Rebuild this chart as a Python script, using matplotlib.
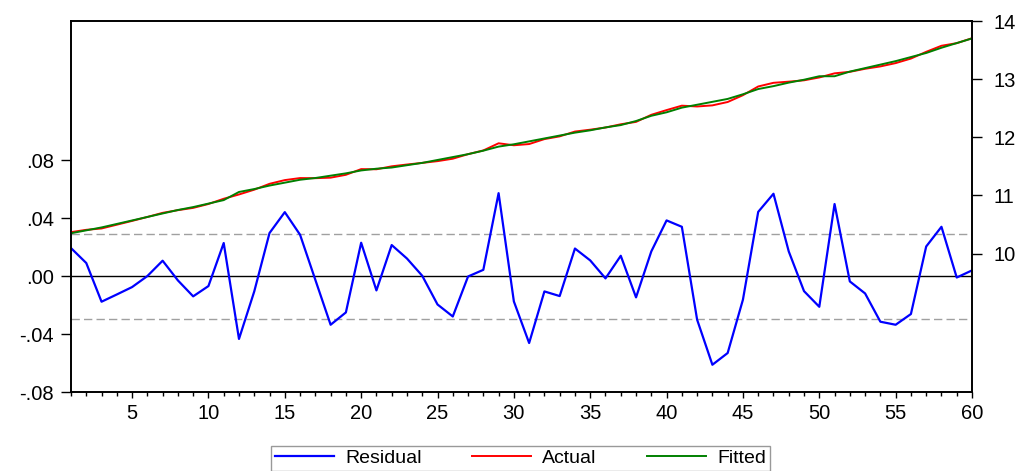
import numpy as np
import matplotlib
matplotlib.use("Agg")
import matplotlib.pyplot as plt
from matplotlib.ticker import MultipleLocator, FixedLocator

plt.rcParams['font.family'] = ['Liberation Sans', 'DejaVu Sans']

obs = list(range(1, 61))

residual = [0.0193, 0.0090, -0.0177, -0.0127, -0.0076, 0.0000, 0.0106, -0.0030, -0.0140, -0.0069,
            0.0228, -0.0434, -0.0106, 0.0297, 0.0441, 0.0285, -0.0026, -0.0336, -0.0251, 0.0230,
            -0.0099, 0.0214, 0.0121, 0.0002, -0.0196, -0.0279, -0.0003, 0.0043, 0.0572, -0.0175,
            -0.0462, -0.0106, -0.0138, 0.0190, 0.0108, -0.0016, 0.0140, -0.0147, 0.0170, 0.0384,
            0.0340, -0.0301, -0.0612, -0.0531, -0.0163, 0.0443, 0.0568, 0.0170, -0.0104, -0.0212,
            0.0497, -0.0037, -0.0120, -0.0315, -0.0336, -0.0262, 0.0204, 0.0340, -0.0010, 0.0039]

fitted = [10.35, 10.40, 10.45, 10.51, 10.57, 10.63, 10.69, 10.75, 10.80, 10.86,
          10.92, 11.06, 11.11, 11.17, 11.22, 11.27, 11.30, 11.34, 11.38, 11.43,
          11.46, 11.48, 11.52, 11.56, 11.61, 11.66, 11.71, 11.77, 11.84, 11.88,
          11.93, 11.98, 12.03, 12.08, 12.12, 12.17, 12.21, 12.28, 12.37, 12.43,
          12.51, 12.56, 12.61, 12.66, 12.74, 12.83, 12.88, 12.94, 12.99, 13.05,
          13.05, 13.13, 13.19, 13.25, 13.31, 13.38, 13.45, 13.54, 13.62, 13.70]

actual = [10.369, 10.409, 10.432, 10.497, 10.562, 10.630, 10.701, 10.747, 10.786, 10.853,
          10.943, 11.017, 11.099, 11.200, 11.264, 11.299, 11.297, 11.306, 11.355, 11.453,
          11.450, 11.501, 11.532, 11.560, 11.590, 11.632, 11.710, 11.774, 11.897, 11.863,
          11.884, 11.969, 12.016, 12.099, 12.131, 12.168, 12.224, 12.265, 12.387, 12.468,
          12.544, 12.530, 12.549, 12.607, 12.724, 12.874, 12.937, 12.957, 12.980, 13.029,
          13.100, 13.126, 13.178, 13.219, 13.276, 13.354, 13.470, 13.574, 13.619, 13.704]

std_err = 0.0293

left_ticks = [-0.08, -0.04, 0.0, 0.04, 0.08]
left_labels = ['-.08', '-.04', '.00', '.04', '.08']
right_ticks = [10, 11, 12, 13, 14]

fs = 14.5

fig = plt.figure(figsize=(10.21, 4.71), dpi=100)
ax = fig.add_axes([71 / 1021, 1 - 392 / 471, 901 / 1021, 371 / 471])
ax2 = ax.twinx()

# residual on the left axis
ax.axhline(0, color='black', lw=1.0, zorder=1)
ax.axhline(std_err, color='#a0a0a0', lw=1.0, ls=(0, (6, 3)), zorder=1)
ax.axhline(-std_err, color='#a0a0a0', lw=1.0, ls=(0, (6, 3)), zorder=1)
l_res, = ax.plot(obs, residual, color='#0000ff', lw=1.6, label='Residual')
ax.set_ylim(-0.08, 0.176)
ax.set_xlim(1, 60)
ax.yaxis.set_major_locator(FixedLocator(left_ticks))
ax.set_yticklabels(left_labels)

# actual / fitted on the right axis
l_act, = ax2.plot(obs, actual, color='#ff0000', lw=1.4, label='Actual')
l_fit, = ax2.plot(obs, fitted, color='#008000', lw=1.4, label='Fitted')
ax2.set_ylim(7.62, 14.0)
ax2.yaxis.set_major_locator(FixedLocator(right_ticks))

ax.xaxis.set_major_locator(FixedLocator(list(range(5, 61, 5))))
ax.xaxis.set_minor_locator(MultipleLocator(1))

ax.tick_params(axis='y', direction='out', length=7.5, width=1, labelsize=fs, pad=5)
ax.tick_params(axis='x', which='major', direction='out', length=4.5, width=1, labelsize=fs, pad=4)
ax.tick_params(axis='x', which='minor', direction='out', length=3, width=1)
ax2.tick_params(axis='y', direction='out', length=7.5, width=1, labelsize=fs, pad=8)

for a in (ax, ax2):
    for s in a.spines.values():
        s.set_linewidth(1.2)

leg = fig.legend([l_res, l_act, l_fit], ['Residual', 'Actual', 'Fitted'],
                 loc='upper center', bbox_to_anchor=(0.510, 0.054), ncol=3,
                 fontsize=14, frameon=True, fancybox=False, edgecolor='#808080',
                 handlelength=3.0, columnspacing=2.6, borderpad=0.2,
                 handletextpad=0.6, borderaxespad=0.0)
leg.get_frame().set_linewidth(1.0)

fig.savefig('out.png', dpi=100)
